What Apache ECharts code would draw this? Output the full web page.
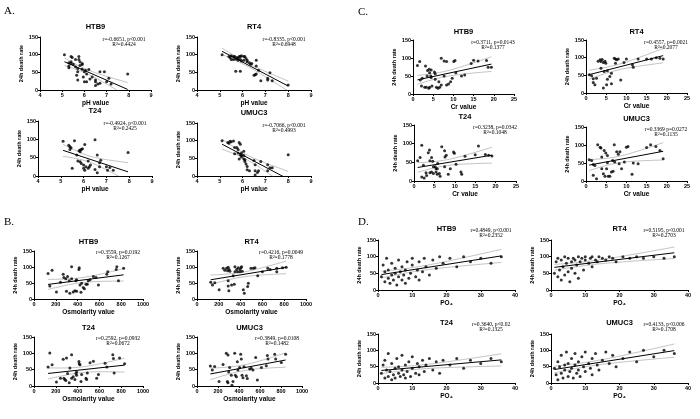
<!DOCTYPE html>
<html>
<head>
<meta charset="utf-8">
<script src="https://cdn.jsdelivr.net/npm/echarts@6/dist/echarts.min.js"></script>
<style>
  html, body { margin: 0; padding: 0; background: #fff; }
  #chart { width: 700px; height: 419px; }
</style>
</head>
<body>
<div id="chart"></div>
<script>
// A. pH value vs 24h death rate
const phHtb9 = [[5.1,100],[5.4,95],[5.45,92],[5.3,77],[5.4,80],[5.3,68],[5.3,63],[5.5,73],[5.6,86],[5.75,95],[5.75,86],[5.8,80],[5.9,75],[5.9,72],[5.7,61],[5.7,52],[5.65,42],[5.7,28],[5.9,59],[6.0,52],[6.05,56],[6.1,45],[5.95,37],[6.0,23],[6.1,23],[6.2,58],[6.35,37],[6.5,23],[6.7,52],[6.9,52],[6.5,13],[6.6,17],[6.7,19],[6.5,28],[7.0,23],[7.1,33],[7.2,17],[7.95,45],[6.25,31],[5.8,69],[5.6,66],[5.4,75]];
const phRt4 = [[5.1,100],[5.4,95],[5.45,92],[5.5,97],[5.6,95],[5.65,95],[5.75,92],[5.8,89],[5.85,95],[5.9,95],[5.95,97],[6.05,95],[6.1,95],[6.15,89],[5.9,86],[5.8,84],[5.95,82],[6.05,84],[6.2,84],[6.2,80],[5.6,86],[5.5,86],[5.7,88],[6.35,73],[6.6,84],[6.6,68],[5.7,53],[5.9,53],[6.5,42],[6.55,43],[6.6,45],[6.7,56],[6.8,26],[7.2,49],[7.1,33],[7.1,28],[7.3,26],[8.0,14],[6.4,75],[6.3,77]];
const phT24 = [[5.1,95],[5.6,96],[6.5,99],[5.35,84],[5.4,80],[5.45,77],[5.4,72],[5.8,69],[5.85,71],[5.9,72],[5.95,74],[5.85,66],[6.05,86],[5.7,57],[5.75,41],[5.85,39],[5.9,34],[6.0,30],[6.2,41],[6.1,25],[6.0,21],[6.05,16],[6.2,21],[6.6,57],[6.75,43],[6.7,36],[6.5,18],[6.6,9],[6.7,25],[7.0,25],[7.05,16],[7.15,23],[7.3,16],[5.5,21],[7.95,64],[6.25,25],[6.3,30]];
const phUmuc3 = [[5.1,100],[5.35,95],[5.45,98],[5.5,97],[5.6,99],[5.4,93],[5.85,95],[5.9,90],[5.65,81],[5.75,81],[5.8,75],[5.65,63],[5.8,65],[5.9,60],[5.95,59],[6.05,58],[5.95,54],[5.85,48],[6.05,48],[6.1,46],[6.05,70],[6.1,41],[6.15,34],[6.2,27],[6.2,18],[6.3,15],[6.5,44],[6.55,32],[6.55,15],[6.65,10],[6.7,15],[6.55,3],[6.8,41],[7.1,32],[7.1,15],[7.2,23],[7.3,23],[8.0,60],[5.95,65]];

// B. Osmolarity value vs 24h death rate
const osmHtb9 = [[129,80],[145,41],[166,90],[206,22],[243,52],[268,77],[274,67],[292,63],[298,24],[308,70],[323,57],[329,18],[345,101],[360,22],[375,26],[385,57],[391,24],[412,92],[415,98],[422,44],[431,21],[437,49],[452,36],[462,32],[477,46],[489,46],[498,57],[514,60],[545,70],[569,67],[591,44],[668,77],[677,85],[754,92],[760,101],[775,57],[822,96],[391,60],[345,63]];
const osmRt4 = [[126,52],[142,44],[163,51],[203,29],[240,96],[255,90],[271,96],[280,88],[286,99],[295,92],[302,87],[286,57],[286,41],[292,26],[317,44],[332,73],[342,46],[348,101],[363,92],[378,98],[372,85],[394,92],[403,98],[409,101],[415,87],[425,29],[434,18],[465,39],[471,49],[495,96],[517,96],[532,98],[557,73],[600,85],[649,96],[671,92],[732,96],[732,85],[785,98],[818,99],[394,85],[348,85]];
const osmT24 = [[129,58],[145,101],[166,65],[206,12],[243,24],[268,82],[274,24],[283,20],[292,17],[298,86],[308,38],[323,10],[329,55],[345,96],[360,28],[375,20],[385,38],[391,33],[412,75],[415,68],[422,65],[431,14],[437,35],[477,24],[483,20],[489,40],[514,71],[545,76],[575,24],[591,35],[652,70],[668,58],[723,96],[729,84],[735,40],[785,86],[831,68],[391,43],[345,24]];
const osmUmuc3 = [[127,61],[146,49],[168,60],[210,14],[248,66],[279,100],[295,95],[289,14],[295,10],[302,43],[311,57],[327,33],[333,2],[343,14],[359,100],[365,33],[375,28],[384,74],[390,49],[406,57],[416,97],[422,83],[429,33],[438,25],[448,59],[470,31],[479,23],[502,52],[517,54],[533,49],[559,87],[575,18],[613,57],[660,62],[670,93],[676,83],[740,97],[749,83],[803,72],[844,97]];

// C. Cr value vs 24h death rate
const crHtb9 = [[1.1,79],[1.65,90],[1.8,39],[2.3,44],[2.1,22],[2.9,19],[3.1,78],[3.5,50],[3.6,65],[4.0,69],[4.1,59],[4.5,67],[4.4,50],[4.5,46],[4.1,19],[3.9,16],[4.7,22],[5.3,61],[5.5,56],[5.5,41],[5.8,19],[6.2,16],[6.6,19],[6.4,34],[7.0,99],[7.7,92],[8.3,90],[7.7,50],[8.3,25],[8.8,28],[9.3,34],[9.7,44],[10.1,90],[10.4,93],[10.6,59],[12.0,50],[12.8,53],[14.4,85],[15.0,94],[16.1,92],[18.2,93],[18.6,74],[19.4,74],[3.3,19],[7.0,25]];
const crRt4 = [[0.8,52],[1.4,49],[1.8,40],[1.8,30],[2.2,23],[2.6,42],[3.0,90],[3.5,94],[3.7,89],[4.0,95],[4.3,86],[4.7,90],[4.9,84],[3.7,70],[4.5,61],[4.3,14],[5.3,39],[5.9,47],[6.3,26],[7.0,98],[7.6,94],[7.3,84],[8.0,96],[8.6,37],[9.4,86],[10.0,96],[11.5,80],[11.7,73],[12.9,96],[15.0,96],[16.2,96],[17.4,100],[18.3,98],[19.1,96],[6.3,56],[5.3,63],[5.1,23],[7.3,96]];
const crT24 = [[0.9,54],[1.5,63],[1.9,96],[2.3,42],[1.9,11],[2.5,8],[2.95,22],[3.1,15],[3.5,76],[3.8,83],[3.9,54],[4.3,63],[4.6,53],[3.9,22],[4.3,24],[4.75,20],[5.2,38],[5.4,33],[5.7,33],[5.4,24],[5.7,18],[6.2,20],[6.4,13],[6.8,92],[7.5,81],[7.9,69],[7.6,64],[7.5,38],[8.4,18],[8.9,33],[9.7,78],[9.9,74],[10.3,45],[11.5,24],[11.7,18],[12.5,66],[15.0,70],[15.8,94],[17.5,71],[18.3,69],[19.1,67],[5.8,47],[4.75,38]];
const crUmuc3 = [[0.8,59],[1.4,57],[1.8,46],[2.2,43],[1.8,16],[2.6,6],[2.9,101],[3.5,94],[3.7,92],[3.9,67],[3.9,34],[4.3,20],[4.7,13],[4.9,78],[5.3,71],[5.3,51],[5.1,34],[5.5,13],[5.9,13],[6.3,25],[6.7,27],[7.0,101],[7.6,81],[8.0,74],[8.4,81],[8.2,48],[8.8,34],[9.5,53],[10.0,94],[10.4,96],[11.7,50],[11.4,19],[12.9,48],[15.0,93],[16.0,101],[17.3,96],[18.3,85],[19.1,62],[6.6,57],[4.5,85],[7.1,53]];

// D. PO4 vs 24h death rate
const po4Htb9 = [[1,40],[1.5,75],[2,25],[2,55],[2.5,95],[3,35],[3,60],[3.5,20],[4,45],[4,80],[4.5,30],[5,50],[5,65],[5.5,15],[6,40],[6,90],[6.5,55],[7,30],[7,70],[7.5,45],[8,20],[8,60],[8.5,85],[9,35],[9.5,50],[10,75],[10,95],[11,40],[11.5,60],[12,30],[12,85],[13,55],[13.5,95],[14,70],[15,45],[16,90],[17,65],[18,100],[19,80],[21,95],[23,70],[25,100],[27,85],[30,95],[33,80],[36,100]];
const po4Rt4 = [[1,50],[1.5,85],[2,40],[2,95],[2.5,60],[3,30],[3,90],[3.5,70],[4,45],[4,100],[4.5,80],[5,55],[5,95],[5.5,25],[6,85],[6,65],[6.5,95],[7,50],[7,90],[7.5,75],[8,100],[8,35],[8.5,85],[9,95],[9.5,60],[10,90],[10,100],[11,80],[11.5,95],[12,70],[12,100],[13,90],[13.5,85],[14,100],[15,95],[16,90],[17,100],[18,95],[19,85],[21,100],[23,95],[25,100],[27,95],[30,100],[33,95],[36,100]];
const po4T24 = [[1,30],[1.5,55],[2,15],[2,70],[2.5,40],[3,20],[3,90],[3.5,35],[4,10],[4,60],[4.5,25],[5,45],[5,15],[5.5,75],[6,30],[6,50],[6.5,20],[7,40],[7,85],[7.5,25],[8,55],[8,15],[8.5,35],[9,65],[9.5,20],[10,45],[10,80],[11,30],[11.5,60],[12,25],[12,50],[13,70],[13.5,35],[14,55],[15,75],[16,40],[17,65],[18,30],[19,70],[21,55],[23,75],[25,45],[27,70],[30,60],[33,75],[36,65]];
const po4Umuc3 = [[1,45],[1.5,25],[2,65],[2,10],[2.5,50],[3,30],[3,85],[3.5,15],[4,55],[4,40],[4.5,95],[5,20],[5,60],[5.5,35],[6,75],[6,45],[6.5,15],[7,55],[7,90],[7.5,30],[8,65],[8,40],[8.5,20],[9,80],[9.5,50],[10,35],[10,95],[11,60],[11.5,45],[12,75],[12,25],[13,90],[13.5,55],[14,40],[15,70],[16,95],[17,60],[18,85],[19,50],[21,75],[23,95],[25,65],[27,100],[30,80],[33,100],[36,90]];

const cellNames = ['HTB9', 'RT4', 'T24', 'UMUC3'];
const statsA = [['r=-0.6651, p<0.001', 'R\u00b2=0.4424'], ['r=-0.8335, p<0.001', 'R\u00b2=0.6948'], ['r=-0.4924, p<0.001', 'R\u00b2=0.2425'], ['r=-0.7066, p<0.001', 'R\u00b2=0.4993']];
const statsB = [['r=0.3559, p=0.0192', 'R\u00b2=0.1267'], ['r=0.4216, p=0.0049', 'R\u00b2=0.1778'], ['r=0.2592, p=0.0932', 'R\u00b2=0.0672'], ['r=0.3849, p=0.0108', 'R\u00b2=0.1482']];
const statsC = [['r=0.3711, p=0.0143', 'R\u00b2=0.1377'], ['r=0.4557, p=0.0021', 'R\u00b2=0.2077'], ['r=0.3238, p=0.0342', 'R\u00b2=0.1048'], ['r=0.3369 p=0.0272', 'R\u00b2=0.1135']];
const statsD = [['r=0.4849, p<0.001', 'R\u00b2=0.2352'], ['r=0.5195, p<0.001', 'R\u00b2=0.2703'], ['r=0.3640, p<0.02', 'R\u00b2=0.1325'], ['r=0.4133, p<0.006', 'R\u00b2=0.1708']];
const yTicks = [0, 50, 100, 150];

// layout of the four panels; boxes are [left, top, width, height] per cell line
const panels = [
  {letter: 'A.', lx: 4, ly: 11, data: [phHtb9, phRt4, phT24, phUmuc3], stats: statsA, xName: 'pH value',
    xMin: 4, xMax: 9, xStep: 1, titleDy: -10, statDx: -27, statDy: 3,
    boxes: [[40, 37, 111, 53], [197, 37, 114, 53], [38, 121, 114, 55], [197, 123, 114, 53]]},
  {letter: 'B.', lx: 4, ly: 222, data: [osmHtb9, osmRt4, osmT24, osmUmuc3], stats: statsB, xName: 'Osmolarity value',
    xMin: 0, xMax: 1000, xStep: 200, titleDy: -9, statDx: -25, statDy: 2,
    boxes: [[34, 251, 109, 48], [197, 251, 109, 48], [34, 337, 109, 49], [197, 337, 105, 49]]},
  {letter: 'C.', lx: 358, ly: 12, data: [crHtb9, crRt4, crT24, crUmuc3], stats: statsC, xName: 'Cr value',
    xMin: 0, xMax: 25, xStep: 5, titleDy: -8, statDx: -21, statDy: 3,
    boxes: [[413, 40, 101, 54], [586, 40, 101, 53], [414, 125, 102, 56], [586, 127, 101, 54]]},
  {letter: 'D.', lx: 358, ly: 222, data: [po4Htb9, po4Rt4, po4T24, po4Umuc3], stats: statsD, xName: 'PO\u2084',
    xMin: 0, xMax: 40, xStep: 10, titleDy: -11, statDx: -24, statDy: -9,
    boxes: [[378, 240, 137, 50], [551, 240, 137, 50], [378, 334, 137, 49], [551, 334, 137, 49]]}
];

// least squares line with 95% confidence band, from the points
function fitLine(pts) {
  const n = pts.length;
  let mx = 0, my = 0;
  pts.forEach(p => { mx += p[0]; my += p[1]; });
  mx /= n; my /= n;
  let sxx = 0, sxy = 0;
  pts.forEach(p => { sxx += (p[0] - mx) ** 2; sxy += (p[0] - mx) * (p[1] - my); });
  const b = sxy / sxx, a = my - b * mx;
  let sse = 0;
  pts.forEach(p => { sse += (p[1] - a - b * p[0]) ** 2; });
  const s = Math.sqrt(sse / (n - 2)), t = 2.02;
  const xs = pts.map(p => p[0]);
  const x0 = Math.min(...xs), x1 = Math.max(...xs);
  const up = [], lo = [];
  for (let i = 0; i <= 40; i++) {
    const x = x0 + (x1 - x0) * i / 40;
    const h = t * s * Math.sqrt(1 / n + (x - mx) ** 2 / sxx);
    up.push([x, a + b * x + h]);
    lo.push([x, a + b * x - h]);
  }
  return {line: [[x0, a + b * x0], [x1, a + b * x1]], up, lo};
}

const sans = 'Liberation Sans';
const serif = 'Liberation Serif';
const grid = [], xAxis = [], yAxis = [], series = [], graphic = [];

function txt(x, y, text, size, opts) {
  graphic.push({
    type: 'text', x, y,
    style: Object.assign({
      text, fontSize: size, fontFamily: sans, fill: '#000',
      align: 'center', verticalAlign: 'middle', textAlign: 'center', textVerticalAlign: 'middle'
    }, opts || {})
  });
}

panels.forEach(pn => {
  txt(pn.lx, pn.ly, pn.letter, 11, {fontFamily: serif, align: 'left', textAlign: 'left'});
  pn.boxes.forEach((bx, k) => {
    const gi = grid.length;
    const [l, t, w, h] = bx;
    grid.push({left: l, top: t, width: w, height: h, containLabel: false});
    xAxis.push({
      gridIndex: gi, type: 'value', min: pn.xMin, max: pn.xMax, interval: pn.xStep,
      name: pn.xName, nameLocation: 'middle', nameGap: 10,
      nameTextStyle: {fontSize: 6.5, fontWeight: 'bold', fontFamily: sans, color: '#000'},
      axisLine: {lineStyle: {color: '#000', width: 1}},
      axisTick: {length: 2, lineStyle: {color: '#000'}},
      axisLabel: {fontSize: 5.5, fontWeight: 'bold', fontFamily: sans, color: '#000', margin: 2,
        formatter: v => String(v)},
      splitLine: {show: false}
    });
    yAxis.push({
      gridIndex: gi, type: 'value', min: yTicks[0], max: yTicks[yTicks.length - 1], interval: 50,
      name: '24h death rate', nameLocation: 'middle', nameGap: 15,
      nameTextStyle: {fontSize: 5.5, fontWeight: 'bold', fontFamily: sans, color: '#000'},
      axisLine: {show: true, lineStyle: {color: '#000', width: 1}},
      axisTick: {show: true, length: 2, lineStyle: {color: '#000'}},
      axisLabel: {fontSize: 5.5, fontWeight: 'bold', fontFamily: sans, color: '#000', margin: 2},
      splitLine: {show: false}
    });
    const pts = pn.data[k];
    const f = fitLine(pts);
    const band = {type: 'line', xAxisIndex: gi, yAxisIndex: gi, symbol: 'none', silent: true,
      lineStyle: {color: '#9a9a9a', width: 0.6}, clip: true, z: 1};
    series.push(Object.assign({}, band, {data: f.up}));
    series.push(Object.assign({}, band, {data: f.lo}));
    series.push({type: 'line', xAxisIndex: gi, yAxisIndex: gi, symbol: 'none', silent: true,
      lineStyle: {color: '#000', width: 1}, clip: true, z: 2, data: f.line});
    series.push({type: 'scatter', xAxisIndex: gi, yAxisIndex: gi, symbol: 'circle', symbolSize: 3,
      itemStyle: {color: '#000'}, z: 3, data: pts});
    txt(l + w / 2, t + pn.titleDy, cellNames[k], 7.5, {fontWeight: 'bold'});
    txt(l + w + pn.statDx, t + pn.statDy, pn.stats[k][0], 5.5, {fontFamily: serif});
    txt(l + w + pn.statDx, t + pn.statDy + 5, pn.stats[k][1], 5.5, {fontFamily: serif});
  });
});

const chart = echarts.init(document.getElementById('chart'), null, {renderer: 'canvas'});
chart.setOption({
  animation: false,
  backgroundColor: '#fff',
  grid, xAxis, yAxis, series, graphic
});
</script>
</body>
</html>
